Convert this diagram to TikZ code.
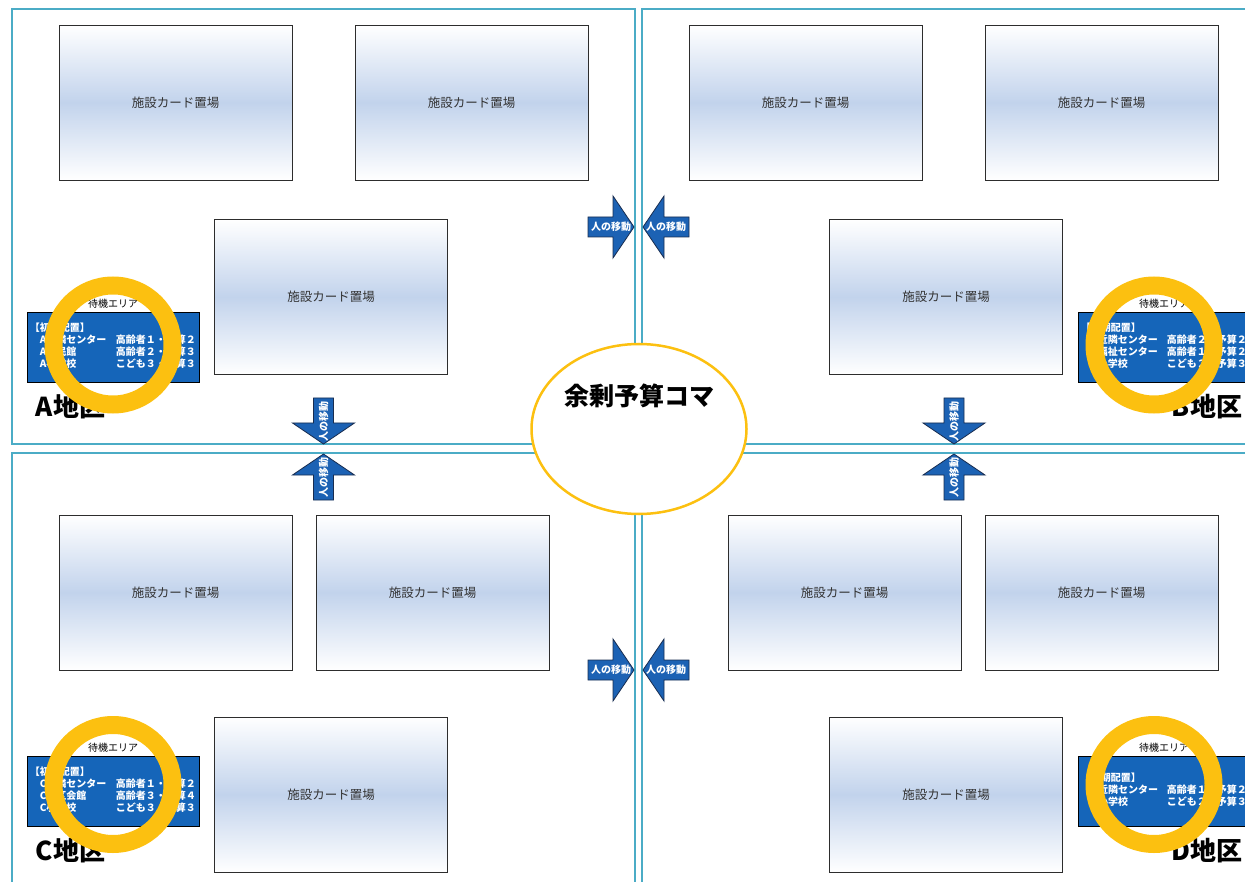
\documentclass[tikz,border=0pt]{standalone}
\usepackage{fontspec}
\setmainfont{Noto Sans CJK JP}
\usepackage{tikz}
\usetikzlibrary{positioning}
\usetikzlibrary{shapes.geometric}
\definecolor{panelblue}{RGB}{75,172,198}
\definecolor{infoblue}{RGB}{21,101,185}
\definecolor{arrowblue}{RGB}{28,98,180}
\definecolor{arrowline}{RGB}{25,45,80}
\definecolor{ringyellow}{RGB}{252,192,16}
\definecolor{cardblue}{RGB}{194,211,236}
\definecolor{cardline}{RGB}{45,45,45}
\tikzset{
    panel/.style = {draw=panelblue, line width=2pt},
    card/.style = {
      draw=cardline,
      line width=0.9pt,
      rectangle,
      minimum width=233pt,
      minimum height=155pt,
      top color=white,
      bottom color=white,
      middle color=cardblue,
      font=\fontsize{12.5}{15}\selectfont,
      text=black!80
    },
    infobox/.style = {
      draw=black,
      line width=0.8pt,
      rectangle,
      fill=infoblue,
      minimum width=172pt,
      minimum height=70pt
    },
    infotext/.style = {
      inner sep=3pt,
      text=white,
      font=\fontsize{10}{12}\selectfont\bfseries
    },
    waitlabel/.style = {inner sep=1.5pt, font=\fontsize{10}{12}\selectfont},
    area/.style = {inner sep=0pt, font=\fontsize{26}{30}\selectfont\bfseries},
    ring/.style = {
      circle,
      draw=ringyellow,
      line width=18pt,
      minimum size=119pt,
      inner sep=0pt
    },
    movetext/.style = {inner sep=0pt, text=white, font=\fontsize{10}{11}\selectfont\bfseries},
    movearrow/.pic = {
      \filldraw[fill=arrowblue, draw=arrowline, line width=0.8pt]
        (-23,-10) -- (2,-10) -- (2,-31) -- (23,0) -- (2,31) -- (2,10) -- (-23,10) -- cycle;
    },
}
\begin{document}
\begin{tikzpicture}[x=1pt, y=-1pt]
      \useasboundingbox (0,0) rectangle (1245,882);
      \clip (0,0) rectangle (1245,882);

      % the four areas
      \draw[panel] (12,9) rectangle (635,444);
      \draw[panel] (642,9) rectangle (1270,444);
      \draw[panel] (12,453) rectangle (635,910);
      \draw[panel] (642,453) rectangle (1270,910);

      % facility card places
      \node[card] (cardA1) at (175.5,102.5) {施設カード置場};
      \node[card] (cardA2) at (471.5,102.5) {施設カード置場};
      \node[card] (cardA3) at (331,297) {施設カード置場};
      \node[card] (cardB1) at (805.5,102.5) {施設カード置場};
      \node[card] (cardB2) at (1101.5,102.5) {施設カード置場};
      \node[card] (cardB3) at (946,297) {施設カード置場};
      \node[card] (cardC1) at (175.5,592.5) {施設カード置場};
      \node[card] (cardC2) at (432.5,592.5) {施設カード置場};
      \node[card] (cardC3) at (331,794.5) {施設カード置場};
      \node[card] (cardD1) at (844.5,592.5) {施設カード置場};
      \node[card] (cardD2) at (1101.5,592.5) {施設カード置場};
      \node[card] (cardD3) at (946,794.5) {施設カード置場};

      % waiting areas
      \node[infobox] (waitA) at (113,347) {};
      \node[infobox] (waitB) at (1164,347) {};
      \node[infobox] (waitC) at (113,791) {};
      \node[infobox] (waitD) at (1164,791) {};
      \node[waitlabel, above=2pt of waitA] (waitlabelA) {待機エリア};
      \node[waitlabel, above=2pt of waitB] (waitlabelB) {待機エリア};
      \node[waitlabel, above=2pt of waitC] (waitlabelC) {待機エリア};
      \node[waitlabel, above=2pt of waitD] (waitlabelD) {待機エリア};

      \node[infotext, anchor=west] (startA) at (waitA.west) {\begin{tabular}{@{}p{86pt}@{}l@{}}
        【初期配置】 & \\
        \hspace*{10pt}A近隣センター & 高齢者１・予算２\\
        \hspace*{10pt}A公民館 & 高齢者２・予算３\\
        \hspace*{10pt}A小学校 & こども３・予算３
      \end{tabular}};
      \node[infotext, anchor=west] (startB) at (waitB.west) {\begin{tabular}{@{}p{86pt}@{}l@{}}
        【初期配置】 & \\
        \hspace*{10pt}B近隣センター & 高齢者２・予算２\\
        \hspace*{10pt}B福祉センター & 高齢者１・予算２\\
        \hspace*{10pt}B小学校 & こども２・予算３
      \end{tabular}};
      \node[infotext, anchor=west] (startC) at (waitC.west) {\begin{tabular}{@{}p{86pt}@{}l@{}}
        【初期配置】 & \\
        \hspace*{10pt}C近隣センター & 高齢者１・予算２\\
        \hspace*{10pt}C地区会館 & 高齢者３・予算４\\
        \hspace*{10pt}C小学校 & こども３・予算３
      \end{tabular}};
      \node[infotext, anchor=west] (startD) at (waitD.west) {\begin{tabular}{@{}p{86pt}@{}l@{}}
        【初期配置】 & \\
        \hspace*{10pt}D近隣センター & 高齢者１・予算２\\
        \hspace*{10pt}D小学校 & こども２・予算３
      \end{tabular}};

      \node[area] (areaA) at (70.5,407) {A地区};
      \node[area] (areaB) at (1207,407) {B地区};
      \node[area] (areaC) at (70.5,851) {C地区};
      \node[area] (areaD) at (1207,851) {D地区};

      % spare budget
      \node[ellipse, draw=ringyellow, line width=2.5pt, fill=white, minimum width=215pt, minimum height=170pt, inner sep=0pt] (spare) at (639,429) {};
      \node[inner sep=0pt, font=\fontsize{25}{28}\selectfont\bfseries] (sparelabel) at (639,396) {余剰予算コマ};

      % moving people
      \pic at (611,227) {movearrow};
      \pic[rotate=180] at (666,227) {movearrow};
      \pic at (611,670) {movearrow};
      \pic[rotate=180] at (666,670) {movearrow};
      \pic[rotate=-90] at (323.5,421) {movearrow};
      \pic[rotate=90] at (323.5,477) {movearrow};
      \pic[rotate=-90] at (954,421) {movearrow};
      \pic[rotate=90] at (954,477) {movearrow};
      \node[movetext] (moveAB) at (611,227) {人の移動};
      \node[movetext] (moveBA) at (666,227) {人の移動};
      \node[movetext] (moveCD) at (611,670) {人の移動};
      \node[movetext] (moveDC) at (666,670) {人の移動};
      \node[movetext, rotate=90] (moveAC) at (323.5,421) {人の移動};
      \node[movetext, rotate=90] (moveCA) at (323.5,477) {人の移動};
      \node[movetext, rotate=90] (moveBD) at (954,421) {人の移動};
      \node[movetext, rotate=90] (moveDB) at (954,477) {人の移動};

      % markers
      \node[ring] (ringA) at (113,345) {};
      \node[ring] (ringB) at (1154,345) {};
      \node[ring] (ringC) at (113,784.5) {};
      \node[ring] (ringD) at (1154,784.5) {};
\end{tikzpicture}
\end{document}
